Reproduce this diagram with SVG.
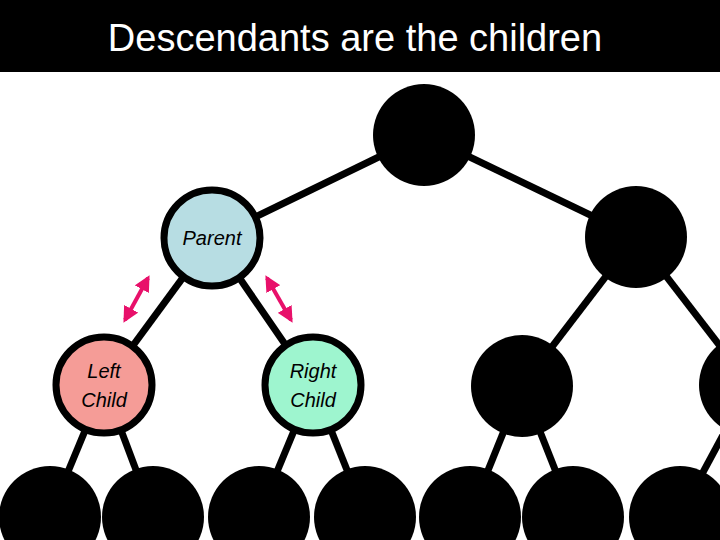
<svg xmlns="http://www.w3.org/2000/svg" width="720" height="540" viewBox="0 0 720 540">
<style>
.e{stroke:#000;stroke-width:7}
.n{stroke:#000;stroke-width:7}
.b{fill:#000}
.t{font-family:"Liberation Sans",Arial,sans-serif;font-style:italic;font-size:20px;fill:#000;text-anchor:middle}
.a{stroke:#e8106a;stroke-width:4;fill:none;marker-start:url(#h);marker-end:url(#h)}
</style>
<defs>
<marker id="h" viewBox="0 0 10 10" refX="8" refY="5" markerWidth="4" markerHeight="4" orient="auto-start-reverse" markerUnits="strokeWidth">
<path d="M0,0L10,5L0,10z" fill="#e8106a"/>
</marker>
</defs>
<rect width="720" height="540" fill="#fff"/>
<rect width="720" height="72" fill="#000"/>
<text x="355" y="51" font-family="Liberation Sans,Arial,sans-serif" font-size="38" fill="#fff" text-anchor="middle">Descendants are the children</text>
<g id="connectors">
<line class="e" x1="424" y1="135" x2="212" y2="238"/>
<line class="e" x1="424" y1="135" x2="636" y2="237"/>
<line class="e" x1="212" y1="238" x2="104" y2="385"/>
<line class="e" x1="212" y1="238" x2="313" y2="385"/>
<line class="e" x1="636" y1="237" x2="522" y2="386"/>
<line class="e" x1="636" y1="237" x2="750" y2="385"/>
<line class="e" x1="104" y1="385" x2="50" y2="515"/>
<line class="e" x1="104" y1="385" x2="153" y2="515"/>
<line class="e" x1="313" y1="385" x2="259" y2="515"/>
<line class="e" x1="313" y1="385" x2="365" y2="515"/>
<line class="e" x1="522" y1="386" x2="470" y2="515"/>
<line class="e" x1="522" y1="386" x2="573" y2="515"/>
<line class="e" x1="750" y1="385" x2="680" y2="515"/>
<line class="a" x1="148" y1="278" x2="125" y2="320"/>
<line class="a" x1="267" y1="278" x2="291" y2="320"/>
</g>
<g id="root"><circle class="b" cx="424" cy="135" r="51"/></g>
<g id="n1r"><circle class="b" cx="636" cy="237" r="51"/></g>
<g id="parent"><circle class="n" cx="212" cy="238" r="48" fill="#b7dde3"/><text class="t" x="212" y="245">Parent</text></g>
<g id="left"><circle class="n" cx="104" cy="385" r="48" fill="#f59c97"/><text class="t" x="104" y="378">Left</text><text class="t" x="104" y="407">Child</text></g>
<g id="right"><circle class="n" cx="313" cy="385" r="48" fill="#9ef5cf"/><text class="t" x="313" y="378">Right</text><text class="t" x="313" y="407">Child</text></g>
<g id="n2c"><circle class="b" cx="522" cy="386" r="51"/></g>
<g id="n2d"><circle class="b" cx="750" cy="385" r="51"/></g>
<g id="l1"><circle class="b" cx="50" cy="517" r="51"/></g>
<g id="l2"><circle class="b" cx="153" cy="517" r="51"/></g>
<g id="l3"><circle class="b" cx="259" cy="517" r="51"/></g>
<g id="l4"><circle class="b" cx="365" cy="517" r="51"/></g>
<g id="l5"><circle class="b" cx="470" cy="517" r="51"/></g>
<g id="l6"><circle class="b" cx="573" cy="517" r="51"/></g>
<g id="l7"><circle class="b" cx="680" cy="517" r="51"/></g>
</svg>
